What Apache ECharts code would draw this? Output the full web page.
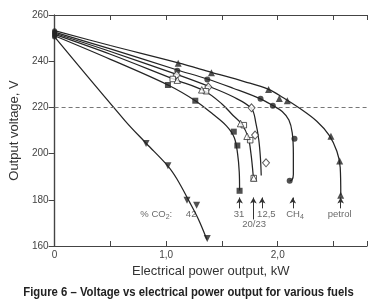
<!DOCTYPE html>
<html>
<head>
<meta charset="utf-8">
<script src="https://cdn.jsdelivr.net/npm/echarts@6/dist/echarts.min.js"></script>
<style>
  html, body { margin: 0; padding: 0; background: #fff; }
  #chart { width: 377px; height: 306px; }
</style>
</head>
<body>
<div id="chart"></div>
<script>
// fitted curves, [kW, V]
const petrolLine = [[0, 253.2], [0.5, 246.8], [1.108, 239.3], [1.406, 235.2], [1.7, 231.2], [1.918, 227.8], [2.05, 224.2], [2.2, 219.5], [2.35, 214], [2.46, 208], [2.53, 201], [2.56, 194], [2.565, 182]]
const ch4Line = [[0, 252.6], [0.5, 245.3], [1.1, 236.2], [1.369, 232.3], [1.6, 228.3], [1.846, 223.7], [1.956, 220.8], [2.04, 218.2], [2.1, 214.5], [2.13, 209], [2.14, 200], [2.14, 191], [2.128, 188.6], [2.107, 188.2]]
const co2_12Line = [[0, 252.1], [0.5, 244.2], [1.094, 234.3], [1.378, 229.2], [1.6, 224.6], [1.765, 219.5], [1.805, 213], [1.83, 206], [1.845, 198], [1.852, 190.5]]
const co2_20Line = [[0, 251.6], [0.5, 243], [1.08, 232], [1.34, 227.2], [1.5, 221.5], [1.6, 216.5], [1.68, 212.6], [1.735, 207], [1.76, 200], [1.78, 190.5]]
const co2_31Line = [[0, 251], [0.5, 240.8], [1.016, 229.7], [1.261, 222.9], [1.42, 217], [1.54, 212], [1.61, 207], [1.64, 200], [1.655, 192], [1.658, 184]]
const co2_42Line = [[0, 250.5], [0.63, 214.3], [0.82, 204.5], [1.016, 194.6], [1.094, 189.2], [1.209, 179.1], [1.29, 171.5], [1.365, 162.8]]

// measured points
const petrolPts = [[1.108, 239.1], [1.406, 235], [1.918, 227.8], [2.014, 223.9], [2.086, 222.9], [2.477, 207.5], [2.555, 196.8], [2.564, 182]]
const ch4Pts = [[1.1, 235.9], [1.369, 232.1], [1.846, 223.7], [1.956, 220.7], [2.15, 206.4], [2.107, 188.2]]
const co2_12Pts = [[1.094, 234], [1.378, 228.8], [1.765, 219.8], [1.797, 208], [1.895, 196]]
const co2_20Tri = [[1.1, 231.8], [1.319, 227.6], [1.667, 213], [1.725, 207.5], [1.785, 189.4]]
const co2_23Sq = [[1.059, 232.3], [1.357, 227], [1.696, 212.3], [1.753, 205.8], [1.785, 189.4]]
const co2_31Pts = [[1.016, 229.7], [1.261, 222.9], [1.606, 209.5], [1.638, 203.5], [1.658, 183.9]]
const co2_42Pts = [[0.82, 204.4], [1.016, 194.7], [1.187, 179.8], [1.273, 177.6], [1.368, 163.2]]
const startV = [253.2, 252.6, 252.1, 251.6, 251, 250.5]

// annotations under the curves
const noteText = ['% CO2:', '42', '31', '20/23', '12,5', 'CH4', 'petrol']
const noteX = [0.911, 1.224, 1.652, 1.788, 1.898, 2.155, 2.555]
const noteY = [173.7, 173.7, 173.7, 169.3, 173.7, 173.7, 173.7]
const arrowX = [1.658, 1.782, 1.86, 2.135, 2.564]
const arrowFrom = [176.3, 171.5, 176.3, 176.3, 176.3]
const arrowTo = 181

const xLabelValues = [0, 1, 2]
const xLabelText = ['0', '1,0', '2,0']
const refVoltage = 220
const caption = 'Figure 6 \u2013 Voltage vs electrical power output for various fuels'

const FONT = '"Liberation Sans", Arial, Helvetica, sans-serif'
const INK = '#242424'

const lineSeries = (data) => ({
  type: 'line',
  data: data,
  smooth: 0.35,
  showSymbol: false,
  silent: true,
  clip: false,
  lineStyle: { color: INK, width: 1.25 }
})

const pointSeries = (data, symbol, size, filled, rotate) => ({
  type: 'scatter',
  data: data,
  symbol: symbol,
  symbolSize: size,
  symbolRotate: rotate || 0,
  silent: true,
  z: 5,
  itemStyle: filled
    ? { color: INK }
    : { color: '#fff', borderColor: '#333', borderWidth: 1 }
})

const axisLine = { lineStyle: { color: '#444', width: 1.2 } }

const option = {
  animation: false,
  backgroundColor: '#fff',
  grid: { left: 44, right: 10, top: 15, bottom: 60 },
  xAxis: [
    {
      type: 'value', min: 0, max: 2.8, interval: 0.5,
      splitLine: { show: false },
      axisLine: axisLine,
      axisTick: { inside: true, length: 5, lineStyle: { color: '#444' } },
      axisLabel: {
        margin: 4, fontSize: 10, color: '#444', fontFamily: FONT,
        formatter: v => {
          const i = xLabelValues.indexOf(Math.round(v * 10) / 10)
          return i >= 0 ? xLabelText[i] : ''
        }
      },
      name: 'Electrical power output, kW',
      nameLocation: 'middle', nameGap: 17,
      nameTextStyle: { fontSize: 13, color: '#333', fontFamily: FONT }
    },
    {
      type: 'value', position: 'top', min: 0, max: 2.8, interval: 0.5,
      splitLine: { show: false },
      axisLine: axisLine,
      axisTick: { inside: true, length: 5, lineStyle: { color: '#444' } },
      axisLabel: { show: false }
    }
  ],
  yAxis: [
    {
      type: 'value', min: 160, max: 260, interval: 20,
      splitLine: { show: false },
      axisLine: axisLine,
      axisTick: { inside: false, length: 4, lineStyle: { color: '#444' } },
      axisLabel: { margin: 6, fontSize: 10, color: '#444', fontFamily: FONT },
      name: 'Output voltage, V',
      nameLocation: 'middle', nameGap: 33,
      nameTextStyle: { fontSize: 13, color: '#333', fontFamily: FONT }
    },
    {
      type: 'value', position: 'right', min: 160, max: 260, interval: 20,
      splitLine: { show: false },
      axisLine: axisLine,
      axisTick: { inside: true, length: 6, lineStyle: { color: '#444' } },
      axisLabel: { show: false }
    }
  ],
  graphic: [{
    type: 'text',
    x: 188.5, y: 292,
    scaleX: 0.87,
    style: {
      text: caption,
      font: 'bold 13px ' + FONT,
      fill: '#222',
      textAlign: 'center', textVerticalAlign: 'middle',
      align: 'center', verticalAlign: 'middle'
    }
  }],
  series: [
    Object.assign(lineSeries(petrolLine), {
      markLine: {
        silent: true, symbol: 'none', label: { show: false },
        lineStyle: { color: '#777', width: 1, type: [4, 3] },
        data: [{ yAxis: refVoltage }]
      }
    }),
    lineSeries(ch4Line),
    lineSeries(co2_12Line),
    lineSeries(co2_20Line),
    lineSeries(co2_31Line),
    lineSeries(co2_42Line),
    pointSeries(petrolPts, 'triangle', 7, true),
    pointSeries(ch4Pts, 'circle', 6, true),
    pointSeries(co2_12Pts, 'diamond', [7, 8], false),
    pointSeries(co2_23Sq, 'rect', 5.5, false),
    pointSeries(co2_20Tri, 'triangle', 6.5, false),
    pointSeries(co2_31Pts, 'rect', 6, true),
    pointSeries(co2_42Pts, 'triangle', 7, true, 180),
    pointSeries(startV.map(v => [0, v]), 'circle', 5, true),
    {
      type: 'scatter',
      silent: true,
      symbolSize: 0,
      data: noteText.map((t, i) => ({ value: [noteX[i], noteY[i]], name: t })),
      label: {
        show: true, position: 'inside',
        fontSize: 9.5, color: '#444', fontFamily: FONT,
        formatter: p => p.name.replace(/([A-Z])(\d)/g, '$1{s|$2}'),
        rich: { s: { fontSize: 7, color: '#444', fontFamily: FONT, padding: [6, 0, 0, 0] } }
      },
      markLine: {
        silent: true,
        symbol: ['none', 'arrow'],
        symbolSize: [5, 6],
        label: { show: false },
        lineStyle: { color: '#333', width: 1, type: 'solid' },
        data: arrowX.map((x, i) => [{ coord: [x, arrowFrom[i]] }, { coord: [x, arrowTo] }])
      }
    }
  ]
}

const chart = echarts.init(document.getElementById('chart'))
chart.setOption(option)
</script>
</body>
</html>
